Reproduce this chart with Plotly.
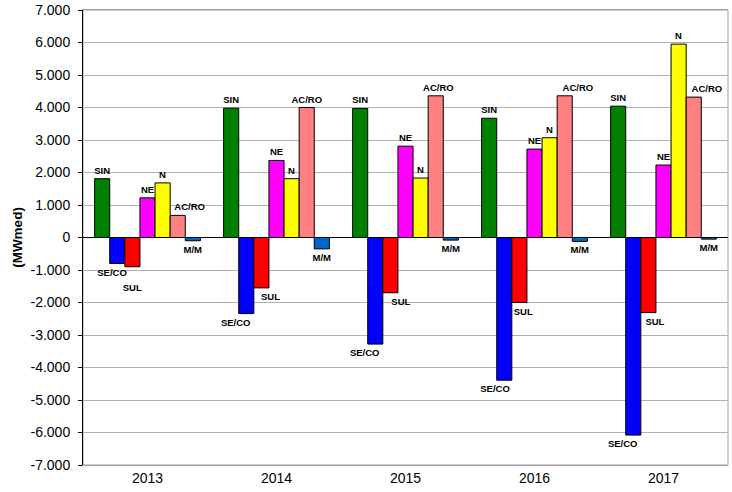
import plotly.graph_objects as go

years = ["2013", "2014", "2015", "2016", "2017"]
series_names = ["SIN", "SE/CO", "SUL", "NE", "N", "AC/RO", "M/M"]
sin = [1810, 3980, 3970, 3670, 4040]
se_co = [-800, -2340, -3280, -4390, -6080]
sul = [-900, -1550, -1700, -2000, -2310]
ne = [1220, 2370, 2810, 2720, 2230]
n = [1680, 1810, 1830, 3070, 5950]
ac_ro = [680, 4000, 4360, 4360, 4320]
m_m = [-100, -350, -80, -120, -50]
colors = ["#008000", "#0000FF", "#FF0000", "#FF00FF", "#FFFF00", "#FF8080", "#0066CC"]

# horizontal nudges (px) of the value labels, as placed in the original chart
label_nudge = {
    "SE/CO": [-5, -11, -10, -9, -10],
    "SUL": [0, 9, 11, 4, 6],
    "AC/RO": [12, 0, 3, 13, 13],
}
LABEL_SIZE = 9.5
NBSP_W = 0.278 * LABEL_SIZE


def nudged(label, shift):
    k = int(round(abs(shift) * 2 / NBSP_W))
    pad = "\u00a0" * k
    return label + pad if shift < 0 else pad + label


tick_vals = list(range(-7000, 7001, 1000))
tick_text = [("-" if v < 0 else "") + (f"{abs(v)//1000}.000" if v != 0 else "0") for v in tick_vals]

all_vals = [sin, se_co, sul, ne, n, ac_ro, m_m]
fig = go.Figure()
for name, vals, col in zip(series_names, all_vals, colors):
    shifts = label_nudge.get(name, [0] * len(vals))
    labels = [nudged(name, s) for s in shifts]
    if name == "SUL":
        # 2013 SUL label sits lower in the original, below the SE/CO label
        labels[0] = "\u00a0<br>" + labels[0]
    fig.add_trace(go.Bar(
        x=years, y=vals, name=name,
        marker=dict(color=col, line=dict(color="black", width=1)),
        text=labels, textposition="outside",
        textfont=dict(family="Liberation Sans, Arial", size=LABEL_SIZE, color="black"),
        constraintext="none", cliponaxis=False,
        texttemplate="<b>%{text}</b>",
    ))

fig.update_layout(
    width=732, height=492,
    margin=dict(l=83, r=4, t=10, b=27),
    paper_bgcolor="white", plot_bgcolor="white",
    barmode="group", bargap=0.18, bargroupgap=0,
    showlegend=False,
    font=dict(family="Liberation Sans, Arial", size=14, color="black"),
    xaxis=dict(showgrid=False, showline=True, linecolor="#A0A0A0", mirror=True,
               ticks="", tickfont=dict(size=14), automargin=False),
    yaxis=dict(range=[-7000, 7000], tickvals=tick_vals, ticktext=tick_text,
               showgrid=True, gridcolor="#B0B0B0", gridwidth=1,
               zeroline=True, zerolinecolor="black", zerolinewidth=1,
               showline=True, linecolor="black", linewidth=1,
               ticks="outside", ticklen=4, tickcolor="black",
               ticklabelstandoff=5,
               tickfont=dict(size=14), automargin=False,
               title=dict(text="<b>(MWmed)</b>", font=dict(size=13.5), standoff=4)),
)
fig.add_shape(type="rect", xref="paper", yref="paper", x0=0, y0=0, x1=1, y1=1,
              line=dict(color="#A0A0A0", width=1), layer="below")

# remove the browser's default 8px body margin so the figure fills the window
fig.write_html("out.html", config={"displayModeBar": False},
               post_script="document.body.style.margin='0px';document.body.style.overflow='hidden';")
